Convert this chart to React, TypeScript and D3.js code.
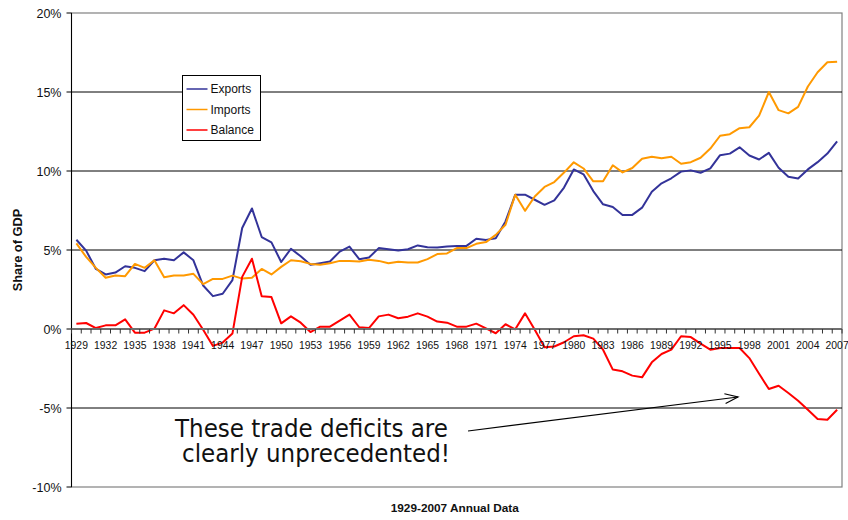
import React from "react";
import * as d3 from "d3";

const years: number[] = d3.range(1929, 2008);

const exportsShare: number[] = [
  5.65, 4.96, 3.8, 3.45, 3.57, 3.97, 3.87, 3.66, 4.35, 4.45, 4.35,
  4.85, 4.35, 2.75, 2.08, 2.23, 3.09, 6.39, 7.63, 5.82, 5.48,
  4.24, 5.08, 4.6, 4.06, 4.16, 4.27, 4.9, 5.22, 4.42, 4.52,
  5.12, 5.05, 4.97, 5.05, 5.29, 5.18, 5.16, 5.22, 5.26, 5.26,
  5.71, 5.64, 5.75, 6.81, 8.5, 8.5, 8.18, 7.86, 8.14, 8.95,
  10.1, 9.79, 8.73, 7.89, 7.72, 7.22, 7.22, 7.68, 8.69, 9.22,
  9.54, 9.96, 10.04, 9.89, 10.17, 11.0, 11.1, 11.5, 10.98, 10.73,
  11.15, 10.21, 9.63, 9.52, 10.1, 10.56, 11.1, 11.88,
];

const importsShare: number[] = [
  5.42, 4.56, 3.87, 3.24, 3.38, 3.34, 4.12, 3.87, 4.35, 3.28, 3.38,
  3.38, 3.49, 2.84, 3.17, 3.17, 3.38, 3.19, 3.24, 3.8, 3.45,
  3.93, 4.35, 4.29, 4.12, 4.06, 4.16, 4.31, 4.31, 4.27, 4.38,
  4.31, 4.16, 4.25, 4.21, 4.21, 4.42, 4.74, 4.78, 5.12, 5.12,
  5.39, 5.5, 5.96, 6.6, 8.5, 7.48, 8.39, 8.99, 9.3, 9.9,
  10.55, 10.16, 9.35, 9.35, 10.36, 9.91, 10.19, 10.78, 10.9, 10.8,
  10.9, 10.46, 10.56, 10.84, 11.42, 12.23, 12.33, 12.71, 12.77, 13.5,
  15.0, 13.85, 13.65, 14.06, 15.35, 16.25, 16.88, 16.92,
];

const balanceShare: number[] = [
  0.34, 0.38, 0.06, 0.23, 0.23, 0.61, -0.23, -0.23, 0.02, 1.18, 0.99,
  1.51, 0.9, -0.05, -1.07, -0.86, -0.29, 3.3, 4.45, 2.08, 2.02,
  0.36, 0.8, 0.4, -0.19, 0.15, 0.15, 0.53, 0.91, 0.11, 0.06,
  0.8, 0.91, 0.68, 0.78, 0.99, 0.78, 0.47, 0.4, 0.15, 0.15,
  0.34, 0.04, -0.27, 0.3, -0.02, 0.99, -0.05, -1.15, -1.11, -0.84,
  -0.46, -0.4, -0.61, -1.31, -2.57, -2.68, -2.95, -3.06, -2.11, -1.58,
  -1.31, -0.46, -0.51, -0.93, -1.31, -1.2, -1.2, -1.2, -1.84, -2.83,
  -3.8, -3.59, -4.05, -4.54, -5.11, -5.7, -5.74, -5.11,
];

const yTicks: number[] = [-10, -5, 0, 5, 10, 15, 20];
const xLabelYears: number[] = years.filter((y) => (y - 1929) % 3 === 0);

const seriesNames: string[] = ["Exports", "Imports", "Balance"];
const seriesColors: string[] = ["#333399", "#FF9900", "#FF0000"];
const seriesData: number[][] = [exportsShare, importsShare, balanceShare];

const annotationLines: string[] = ["These trade deficits are", "clearly unprecedented!"];
const yTitle = "Share of GDP";
const xTitle = "1929-2007 Annual Data";

const W = 848;
const H = 520;
const left = 71.5;
const right = 842;
const top = 13;
const bottom = 487;
const font = "'Liberation Sans', Arial, sans-serif";

export default function App() {
  const x = d3
    .scaleBand<number>()
    .domain(years)
    .range([left, right])
    .paddingInner(0)
    .paddingOuter(0);
  const cx = (yr: number) => (x(yr) as number) + x.bandwidth() / 2;
  const y = d3.scaleLinear().domain([-10, 20]).range([bottom, top]);

  const line = d3
    .line<number>()
    .x((_, i) => cx(years[i]))
    .y((d) => y(d));

  const y0 = y(0);
  const tickXs = years.map((yr) => x(yr) as number).concat([right]);

  // arrow geometry
  const ax1 = 468, ay1 = 431, ax2 = 738, ay2 = 397;
  const ang = Math.atan2(ay2 - ay1, ax2 - ax1);
  const headLen = 14;
  const headAng = 0.36;
  const h1 = [ax2 - headLen * Math.cos(ang - headAng), ay2 - headLen * Math.sin(ang - headAng)];
  const h2 = [ax2 - headLen * Math.cos(ang + headAng), ay2 - headLen * Math.sin(ang + headAng)];

  return (
    <svg
      width={W}
      height={H}
      viewBox={`0 0 ${W} ${H}`}
      style={{ position: "absolute", left: 0, top: 0, background: "#fff" }}
    >
      <rect x={0} y={0} width={W} height={H} fill="#fff" />
      {/* plot border */}
      <rect x={left} y={top} width={right - left} height={bottom - top} fill="none" stroke="#808080" strokeWidth={1.2} />
      {/* gridlines */}
      {yTicks
        .filter((t) => t !== 0 && t !== 20 && t !== -10)
        .map((t) => (
          <line key={"g" + t} x1={left} x2={right} y1={y(t)} y2={y(t)} stroke="#000" strokeWidth={1} />
        ))}
      {/* y axis */}
      <line x1={left} x2={left} y1={top} y2={bottom} stroke="#000" strokeWidth={1} />
      {yTicks.map((t) => (
        <g key={"yt" + t}>
          <line x1={left - 5} x2={left} y1={y(t)} y2={y(t)} stroke="#000" strokeWidth={1} />
          <text
            x={61.5}
            y={y(t)}
            dy="0.36em"
            textAnchor="end"
            fontFamily={font}
            fontSize={12.5}
            fill="#111"
          >
            {t + "%"}
          </text>
        </g>
      ))}
      {/* legend box */}
      <rect x={182.5} y={75.5} width={78} height={65} fill="#fff" stroke="#000" strokeWidth={1} />
      {seriesNames.map((n, i) => (
        <g key={"lg" + n}>
          <line x1={186.5} x2={207.5} y1={89 + i * 20.5} y2={89 + i * 20.5} stroke={seriesColors[i]} strokeWidth={1.5} />
          <text x={210.5} y={89 + i * 20.5} dy="0.36em" fontFamily={font} fontSize={12} fill="#111">
            {n}
          </text>
        </g>
      ))}
      {/* data lines */}
      {seriesData.map((s, i) => (
        <path
          key={"s" + i}
          d={line(s) || ""}
          fill="none"
          stroke={seriesColors[i]}
          strokeWidth={2}
          strokeLinejoin="round"
        />
      ))}
      {/* category axis at 0 */}
      <line x1={left} x2={right} y1={y0} y2={y0} stroke="#6e6e6e" strokeWidth={2} />
      {tickXs.map((tx, i) => (
        <line key={"xt" + i} x1={tx} x2={tx} y1={y0} y2={y0 + 4.5} stroke="#333" strokeWidth={1} />
      ))}
      {xLabelYears.map((yr) => (
        <text
          key={"xl" + yr}
          x={cx(yr)}
          y={348.5}
          textAnchor="middle"
          fontFamily={font}
          fontSize={10.4}
          fill="#111"
        >
          {yr}
        </text>
      ))}
      {/* axis titles */}
      <text
        transform={`translate(21.5, ${(top + bottom) / 2}) rotate(-90)`}
        textAnchor="middle"
        fontFamily={font}
        fontSize={12.8}
        fontWeight="bold"
        fill="#111"
      >
        {yTitle}
      </text>
      <text x={(left + right) / 2 - 2} y={512} textAnchor="middle" fontFamily={font} fontSize={11.8} fontWeight="bold" fill="#111">
        {xTitle}
      </text>
      {/* annotation (one text block, two lines) */}
      <text textAnchor="middle" fontFamily="'DejaVu Sans', sans-serif" fontSize={24.5} fill="#111">
        <tspan x={311.5} y={436.5} textLength={273} lengthAdjust="spacingAndGlyphs">
          {annotationLines[0]}
        </tspan>
        <tspan x={316} y={461.5} textLength={268} lengthAdjust="spacingAndGlyphs">
          {annotationLines[1]}
        </tspan>
      </text>
      <line x1={ax1} y1={ay1} x2={ax2} y2={ay2} stroke="#000" strokeWidth={1.2} />
      <polyline
        points={`${h1[0]},${h1[1]} ${ax2},${ay2} ${h2[0]},${h2[1]}`}
        fill="none"
        stroke="#000"
        strokeWidth={1.2}
      />
    </svg>
  );
}
